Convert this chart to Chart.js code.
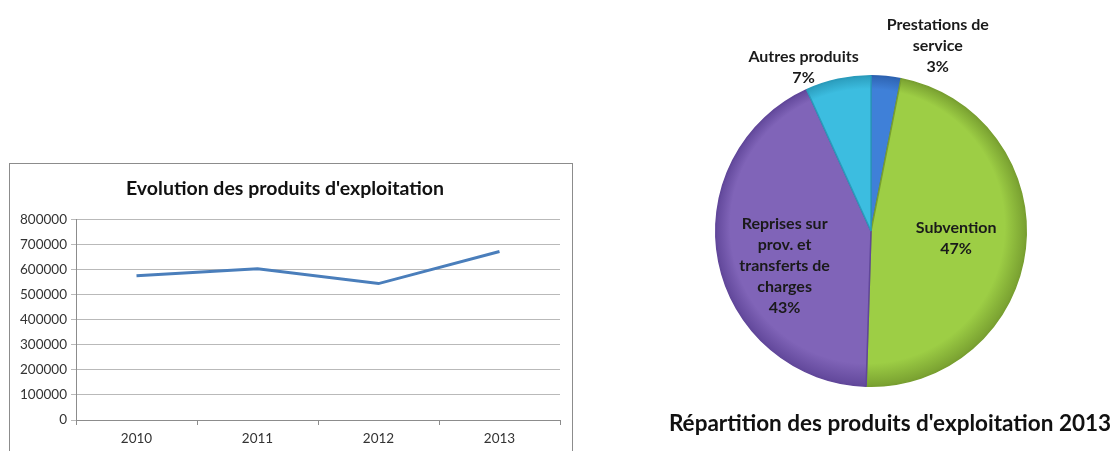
<!DOCTYPE html>
<html>
<head>
<meta charset="utf-8">
<script src="https://cdn.jsdelivr.net/npm/chart.js@4"></script>
<style>
    body { margin: 0; background: #fff; width: 1116px; height: 451px; overflow: hidden; position: relative; font-family: Lato, "Open Sans", sans-serif; }
    #lineBox { position: absolute; left: 9px; top: 163px; width: 562px; height: 300px; border: 1px solid #8c8c8c; }
    #pieBox { position: absolute; left: 640px; top: 0; width: 476px; height: 451px; }
    #pieTitle { position: absolute; left: 640px; width: 500px; top: 409px; text-align: center; font: bold 22.5px Lato, sans-serif; color: #111; white-space: nowrap; }
</style>
</head>
<body>
<div id="lineBox"><canvas id="lineChart" width="562" height="300"></canvas></div>
<div id="pieBox"><canvas id="pieChart" width="476" height="451"></canvas></div>
<div id="pieTitle">Répartition des produits d'exploitation 2013</div>

<script>
// data
const years = ["2010", "2011", "2012", "2013"]
const produits = [575000, 603000, 544000, 672000]
const yTicks = [0, 100000, 200000, 300000, 400000, 500000, 600000, 700000, 800000]

const pieLabels = [
    ["Prestations de", "service"],
    ["Subvention"],
    ["Reprises sur", "prov. et", "transferts de", "charges"],
    ["Autres produits"],
]
const piePercents = [3.1, 47.4, 42.7, 6.8]

const pieColors = ["#3f80d8", "#9dce45", "#8064b8", "#3cbde0"]
const pieDark = ["#2d62b0", "#789f30", "#61479a", "#2a9bbb"]

// Line chart
const lctx = document.getElementById("lineChart").getContext("2d")
const lineChart = new Chart(lctx, {
    type: "line",
    data: {
        labels: years,
        datasets: [
            {
                label: "Produits",
                data: produits,
                borderColor: "#4a7ebb",
                borderWidth: 3,
                pointRadius: 0,
                tension: 0,
            },
        ],
    },
    options: {
        responsive: false,
        animation: false,
        layout: { padding: { left: 0, right: 12, top: 0, bottom: 0 } },
        plugins: {
            legend: { display: false },
            tooltip: { enabled: false },
            title: {
                display: true,
                text: "Evolution des produits d'exploitation",
                color: "#111",
                font: { family: "Lato", size: 19.5, weight: "bold" },
                padding: { top: 13, bottom: 19 },
            },
        },
        scales: {
            x: {
                offset: true,
                afterFit: (scale) => {
                    scale.height = 44
                },
                grid: { offset: true, drawOnChartArea: false, tickLength: 5, color: "#8c8c8c" },
                border: { color: "#8c8c8c" },
                ticks: { color: "#333", font: { family: "Lato", size: 13.5 }, padding: 6 },
            },
            y: {
                min: 0,
                max: 800000,
                afterBuildTicks: (scale) => {
                    scale.ticks = yTicks.map((v) => ({ value: v }))
                },
                afterFit: (scale) => {
                    scale.width = 66
                },
                grid: { color: "#b9b9b9", tickLength: 5 },
                border: { color: "#8c8c8c" },
                ticks: {
                    color: "#333",
                    font: { family: "Lato", size: 13.5 },
                    padding: 4,
                    callback: (v) => String(v),
                },
            },
        },
    },
})

// Pie chart labels plugin
const pieLabelPos = [
    { angle: 19.8, ratio: 1.27 },
    { angle: 94.7, ratio: 0.55 },
    { angle: 248, ratio: 0.6 },
    { angle: 337.6, ratio: 1.14 },
]

const pieLabelPlugin = {
    id: "pieLabels",
    afterDatasetsDraw(chart) {
        const c = chart.ctx
        const arcs = chart.getDatasetMeta(0).data
        c.save()
        c.font = "bold 16px Lato"
        c.fillStyle = "#1a1a1a"
        c.textAlign = "center"
        c.textBaseline = "middle"
        arcs.forEach((arc, i) => {
            const pos = pieLabelPos[i]
            const a = (pos.angle - 90) * Math.PI / 180
            const r = arc.outerRadius * pos.ratio
            const cx = arc.x + Math.cos(a) * r
            const cy = arc.y + Math.sin(a) * r
            const lines = pieLabels[i].concat([Math.round(piePercents[i]) + "%"])
            const lh = 21
            const top = cy - (lines.length - 1) * lh / 2
            lines.forEach((t, j) => c.fillText(t, cx, top + j * lh))
        })
        c.restore()
    },
}

const pctx = document.getElementById("pieChart").getContext("2d")
const pieChart = new Chart(pctx, {
    type: "pie",
    data: {
        labels: pieLabels.map((l) => l.join(" ")),
        datasets: [
            {
                data: piePercents,
                backgroundColor: (context) => {
                    const chart = context.chart
                    const area = chart.chartArea
                    if (!area) return pieColors[context.dataIndex]
                    const g = chart.ctx.createRadialGradient(
                        (area.left + area.right) / 2 - 30, (area.top + area.bottom) / 2 - 40, 0,
                        (area.left + area.right) / 2, (area.top + area.bottom) / 2, (area.right - area.left) / 2)
                    g.addColorStop(0, pieColors[context.dataIndex])
                    g.addColorStop(0.88, pieColors[context.dataIndex])
                    g.addColorStop(1, pieDark[context.dataIndex])
                    return g
                },
                borderColor: pieDark,
                borderWidth: 1.5,
            },
        ],
    },
    options: {
        responsive: false,
        animation: false,
        layout: { padding: { left: 75, right: 89, top: 75, bottom: 64 } },
        plugins: {
            legend: { display: false },
            tooltip: { enabled: false },
        },
    },
    plugins: [pieLabelPlugin],
})
</script>
</body>
</html>
